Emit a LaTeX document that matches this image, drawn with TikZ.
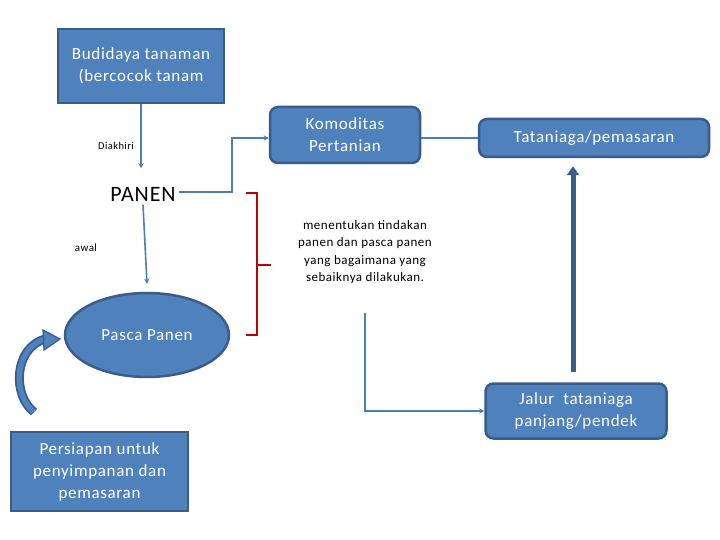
\documentclass[tikz,border=0pt]{standalone}
\usepackage{fontspec}
\setmainfont{Carlito}
\newfontfamily\spaced[LetterSpace=4]{Carlito}
\usetikzlibrary{shapes.geometric,arrows.meta,calc}
\definecolor{bfill}{HTML}{4F81BD}
\definecolor{bdraw}{HTML}{385D8A}
\definecolor{conn}{HTML}{4A7EBB}
\definecolor{brk}{HTML}{C00000}
\tikzset{
  box/.style={draw=bdraw,fill=bfill,line width=2.5pt,text=white,align=center,inner sep=2pt},
  rbox/.style={box,rounded corners=8pt},
  boxfont/.style={font=\spaced\fontsize{17}{22}\selectfont},
  connline/.style={draw=conn,line width=1.6pt,-{Stealth[length=5pt,width=5pt]}},
  plainline/.style={draw=conn,line width=1.6pt},
  lbl/.style={text=black,align=center}
}
\begin{document}
\begin{tikzpicture}[x=1pt,y=-1pt]
\useasboundingbox[fill=white] (0,0) rectangle (720,540);
% boxes
\node[box,boxfont,minimum width=166pt,minimum height=74pt] (budidaya) at (141,66) {Budidaya tanaman\\(bercocok tanam};
\node[rbox,boxfont,minimum width=150pt,minimum height=56pt] (komoditas) at (345,135) {Komoditas\\Pertanian};
\node[rbox,boxfont,minimum width=230pt,minimum height=38pt] (tataniaga) at (594,138) {Tataniaga/pemasaran};
\node[rbox,boxfont,minimum width=181pt,minimum height=55pt] (jalur) at (576,411) {Jalur~ tataniaga\\panjang/pendek};
\node[box,boxfont,minimum width=177pt,minimum height=79pt] (persiapan) at (99.5,471.5) {Persiapan untuk\\penyimpanan dan\\pemasaran};
\node[ellipse,draw=bdraw,fill=bfill,line width=2.5pt,text=white,minimum width=164pt,minimum height=84pt,inner sep=0pt,boxfont] (pasca) at (147,335) {Pasca Panen};
% labels
\node[lbl,font=\spaced\fontsize{22}{26}\selectfont] (panen) at (143,194) {PANEN};
\node[lbl,font=\spaced\fontsize{10.5}{12}\selectfont] (diakhiri) at (116,146) {Diakhiri};
\node[lbl,font=\spaced\fontsize{11}{12}\selectfont] (awal) at (86,248) {awal};
\node[lbl,font=\spaced\fontsize{13}{17.5}\selectfont] (menentukan) at (365,252) {menentukan tindakan\\panen dan pasca panen\\yang bagaimana yang\\sebaiknya dilakukan.};
% connectors
\draw[connline] (budidaya.south) -- ($(budidaya.south)+(0,64)$);
\draw[connline] (panen.south) -- ($(pasca.north)+(0,-8)$);
\coordinate (k1) at (232,192);
\draw[connline] (panen.east |- k1) -- (k1) |- (komoditas.west |- 0,138);
\draw[plainline] (komoditas.east |- tataniaga.west) -- (tataniaga.west);
\coordinate (j0) at (365,313);
\draw[connline] (j0) |- (jalur.west);
\draw[draw=bdraw,line width=5pt,-{Triangle[length=9pt,width=12pt]},shorten <=10pt,shorten >=8pt] ($(jalur.north)+(-3,0)$) -- ($(tataniaga.south)+(-21,0)$);
% red bracket
\coordinate (b1) at (246,193);
\coordinate (b2) at (257,193);
\coordinate (b3) at (257,335);
\coordinate (b4) at (246,335);
\coordinate (bm) at (257,265);
\coordinate (bt) at (271,265);
\draw[brk,line width=1.2pt] (b1) -- (b2) -- (b3) -- (b4);
\draw[brk,line width=1.2pt] (bm) -- (bt);
% curved arrow
\coordinate (c0) at (34,412);
\coordinate (c1) at (45,339);
\draw[bdraw,line width=9pt] (c0) .. controls (12,395) and (14,348) .. (c1);
\draw[bfill,line width=5.5pt] (c0) .. controls (12,395) and (14,348) .. (c1);
\fill[bfill,draw=bdraw,line width=1.2pt] (43,330) -- (60,339) -- (44,350) -- cycle;
\end{tikzpicture}
\end{document}
